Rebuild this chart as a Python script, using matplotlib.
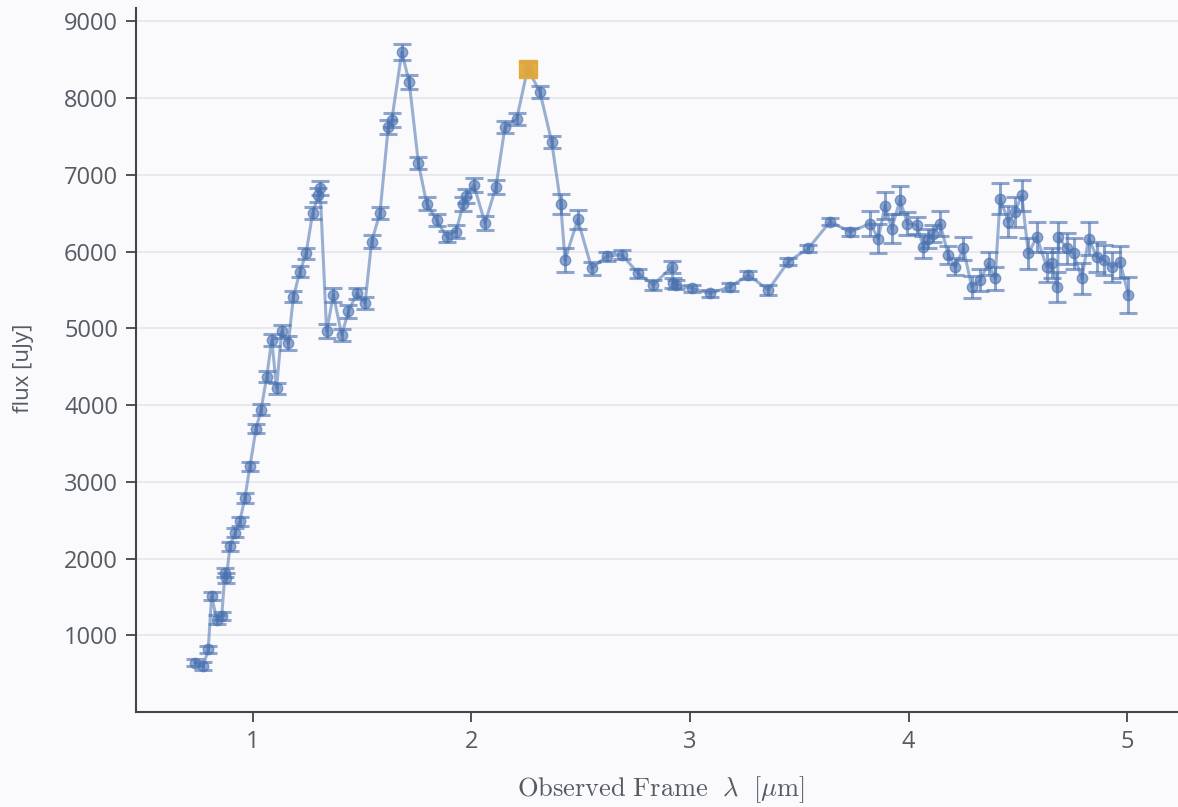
import numpy as np
import matplotlib
matplotlib.use("Agg")
import matplotlib.pyplot as plt

# --- spectrum points ---
wave = [0.735, 0.773, 0.795, 0.811, 0.834, 0.857, 0.872, 0.878, 0.895, 0.918,
        0.940, 0.963, 0.986, 1.014, 1.037, 1.063, 1.086, 1.108, 1.131, 1.162,
        1.185, 1.215, 1.243, 1.273, 1.299, 1.307, 1.337, 1.368, 1.406, 1.437,
        1.475, 1.513, 1.543, 1.581, 1.619, 1.635, 1.681, 1.715, 1.757, 1.795,
        1.840, 1.886, 1.929, 1.962, 1.975, 2.011, 2.062, 2.112, 2.153, 2.207,
        2.257, 2.313, 2.367, 2.408, 2.428, 2.486, 2.550, 2.619, 2.687, 2.764,
        2.832, 2.916, 2.924, 2.935, 3.008, 3.092, 3.183, 3.267, 3.358, 3.450,
        3.541, 3.641, 3.732, 3.824, 3.862, 3.892, 3.923, 3.961, 3.995, 4.038,
        4.068, 4.091, 4.110, 4.144, 4.182, 4.213, 4.251, 4.289, 4.327, 4.366,
        4.396, 4.419, 4.457, 4.487, 4.518, 4.548, 4.587, 4.632, 4.655, 4.681,
        4.686, 4.724, 4.755, 4.793, 4.824, 4.862, 4.893, 4.931, 4.968, 5.006]
flux = [645, 600, 815, 1510, 1205, 1250, 1815, 1745, 2160, 2335,
        2485, 2790, 3200, 3690, 3940, 4370, 4850, 4220, 4960, 4805,
        5410, 5740, 5975, 6500, 6735, 6825, 4960, 5435, 4915, 5220,
        5455, 5330, 6130, 6500, 7620, 7710, 8600, 8210, 7150, 6625,
        6410, 6195, 6260, 6620, 6720, 6865, 6370, 6845, 7620, 7730,
        8385, 8080, 7430, 6625, 5890, 6420, 5780, 5940, 5960, 5715,
        5565, 5800, 5590, 5570, 5520, 5455, 5540, 5695, 5500, 5870,
        6040, 6390, 6255, 6365, 6170, 6600, 6300, 6670, 6365, 6345,
        6060, 6170, 6230, 6365, 5955, 5800, 6040, 5540, 5630, 5845,
        5650, 6690, 6390, 6515, 6735, 5975, 6190, 5800, 5850, 5540,
        6190, 6040, 5975, 5650, 6170, 5930, 5890, 5800, 5865, 5435]
err = [50, 50, 50, 55, 55, 55, 60, 60, 60, 60,
       60, 60, 60, 60, 70, 70, 80, 70, 80, 90,
       70, 70, 70, 80, 90, 90, 90, 90, 80, 80,
       70, 80, 80, 80, 90, 90, 100, 90, 80, 80,
       80, 70, 80, 90, 90, 90, 90, 90, 80, 80,
       90, 80, 80, 130, 150, 120, 80, 60, 60, 60,
       60, 80, 60, 60, 50, 50, 50, 50, 60, 50,
       50, 50, 50, 160, 190, 180, 190, 180, 150, 110,
       140, 130, 110, 160, 120, 110, 150, 140, 140, 150,
       150, 200, 200, 200, 200, 200, 200, 200, 200, 200,
       200, 200, 200, 200, 210, 200, 200, 200, 210, 230]

peak_idx = 50  # highlighted point

blue = "#4a72b0"
orange = "#e3a93a"
bg = "#fafafd"
grey = "#555a63"

plt.rcParams["font.family"] = ["Open Sans", "DejaVu Sans"]
plt.rcParams["mathtext.fontset"] = "cm"

fig = plt.figure(figsize=(11.78, 8.07), dpi=100, facecolor=bg)
ax = fig.add_axes([0.1155, 0.1177, 0.8845, 0.8723])
ax.set_facecolor(bg)

ax.plot(wave, flux, color=blue, alpha=0.55, lw=2.2, zorder=2)
ax.errorbar(wave, flux, yerr=err, fmt="o", color=blue, ms=7.5, alpha=0.62,
            elinewidth=2.2, capsize=6.5, capthick=2.2, zorder=3)
ax.plot(wave[peak_idx], flux[peak_idx], marker="s", ms=13, color=orange,
        alpha=0.95, zorder=4, linestyle="none")

ax.set_xlim(0.465, 5.233)
ax.set_ylim(0, 9173)
ax.set_xticks([1, 2, 3, 4, 5])
ax.set_yticks(range(1000, 10000, 1000))
ax.grid(axis="y", color="#e6e6ea", lw=1.2)
ax.set_axisbelow(True)

for s in ["top", "right"]:
    ax.spines[s].set_visible(False)
for s in ["left", "bottom"]:
    ax.spines[s].set_color("#444444")
    ax.spines[s].set_linewidth(1.5)

ax.tick_params(axis="both", direction="out", length=7, width=1.3,
               color="#444444", labelcolor=grey, labelsize=17, pad=6)

fig.text(23 / 1178, 1 - 368 / 807, "flux [uJy]", fontsize=16, color=grey,
         rotation=90, ha="center", va="center")
fig.text(661 / 1178, 1 - 790 / 807, r"$\mathrm{Observed\ Frame}\ \ \lambda\ \ [\mu\mathrm{m}]$",
         fontsize=19, color=grey, ha="center", va="center")

fig.savefig("out.png", dpi=100, facecolor=bg)
